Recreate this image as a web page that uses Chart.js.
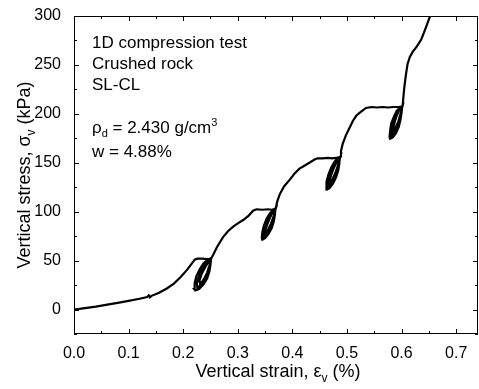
<!DOCTYPE html>
<html>
<head>
<meta charset="utf-8">
<script src="https://cdn.jsdelivr.net/npm/chart.js@4.4.1/dist/chart.umd.min.js"></script>
<style>
  body { margin: 0; background: #fff; }
  #wrap { width: 479px; height: 389px; }
</style>
</head>
<body>
<div id="wrap"><canvas id="chart" width="479" height="389"></canvas></div>
<script>
// strain (%) and vertical stress (kPa)
var strain = [
  // first loading
  0.000, 0.020, 0.040, 0.061, 0.080, 0.100, 0.120, 0.134, 0.137, 0.139, 0.142, 0.155, 0.170, 0.183, 0.195, 0.207, 0.215, 0.221, 0.226, 0.235, 0.243, 0.251,
  // loop 1
  0.250, 0.248, 0.244, 0.237, 0.229, 0.222, 0.220, 0.221, 0.224, 0.230, 0.237, 0.245, 0.251,
  0.249, 0.246, 0.241, 0.234, 0.226, 0.225, 0.228, 0.233, 0.240, 0.247, 0.252,
  0.248, 0.244, 0.238, 0.231, 0.230, 0.234, 0.240, 0.246, 0.252,
  // to 100 kPa
  0.255, 0.262, 0.273, 0.282, 0.291, 0.300, 0.310, 0.320, 0.328, 0.334, 0.345, 0.355, 0.362, 0.369,
  // loop 2
  0.368, 0.366, 0.362, 0.356, 0.350, 0.345, 0.344, 0.345, 0.348, 0.353, 0.359, 0.365, 0.369,
  0.367, 0.364, 0.359, 0.353, 0.347, 0.347, 0.350, 0.355, 0.361, 0.367, 0.370,
  0.366, 0.361, 0.356, 0.350, 0.350, 0.354, 0.359, 0.365, 0.370,
  // to 150 kPa
  0.372, 0.377, 0.385, 0.395, 0.404, 0.413, 0.422, 0.431, 0.440, 0.446, 0.455, 0.465, 0.473, 0.480, 0.487,
  // loop 3
  0.486, 0.484, 0.480, 0.474, 0.468, 0.463, 0.462, 0.463, 0.466, 0.471, 0.477, 0.483, 0.487,
  0.485, 0.482, 0.477, 0.471, 0.465, 0.465, 0.468, 0.473, 0.479, 0.485, 0.488,
  0.484, 0.479, 0.474, 0.468, 0.468, 0.472, 0.477, 0.483, 0.488,
  // to 200 kPa
  0.489, 0.492, 0.498, 0.505, 0.511, 0.517, 0.523, 0.529, 0.535, 0.545, 0.555, 0.565, 0.575, 0.585, 0.594, 0.601,
  // loop 4
  0.600, 0.598, 0.595, 0.590, 0.584, 0.579, 0.578, 0.579, 0.581, 0.586, 0.591, 0.597, 0.601,
  0.599, 0.596, 0.592, 0.587, 0.581, 0.581, 0.584, 0.588, 0.593, 0.598, 0.602,
  0.598, 0.594, 0.589, 0.584, 0.584, 0.587, 0.591, 0.596, 0.602,
  // final loading
  0.603, 0.605, 0.608, 0.611, 0.615, 0.620, 0.628, 0.636, 0.641, 0.645, 0.651, 0.655
];
var stress = [
  0.0, 1.5, 3.0, 5.0, 6.8, 8.8, 11.0, 12.8, 14.5, 12.5, 14.0, 17.0, 21.5, 26.5, 33.0, 40.5, 46.5, 51.0, 52.0, 52.0, 51.5, 52.0,
  46, 39, 32, 25.5, 21, 19.5, 21, 27, 34, 41, 47, 51, 52.5,
  46, 39, 32, 26, 22, 26.5, 33, 40, 46, 50.5, 53,
  45, 38, 31, 25.5, 30, 36.5, 43, 48.5, 53,
  56, 64, 74, 80, 84.5, 88, 91.5, 96, 101, 102.5, 102, 102.5, 102, 103,
  97, 90, 83, 77, 73, 71.5, 73, 79, 86, 93, 98.5, 102, 103.5,
  97, 90, 83, 77, 73.5, 78, 85, 92, 98, 102.5, 104,
  96, 88, 82, 76, 80, 87, 94, 100.5, 104,
  110, 118, 126, 132.5, 139, 144, 147, 150, 153, 154.5, 154.5, 155, 154.5, 155, 155.5,
  149, 142, 135, 128.5, 124, 122.5, 124, 130.5, 138, 145, 151, 154.5, 156,
  149, 142, 135, 129, 125, 129.5, 137, 144, 150, 154.5, 156.5,
  148, 140, 134, 128, 132, 139, 146, 152.5, 156.5,
  162, 169, 178, 186, 193, 198, 201, 203.5, 206, 207, 206.5, 207, 206.5, 207, 207, 207.5,
  201, 194, 187, 180.5, 176, 174.5, 176, 182.5, 190, 197, 203, 206.5, 208,
  201, 194, 187, 181, 177, 181.5, 189, 196, 202, 206.5, 208.5,
  200, 192, 186, 180, 184, 191, 198, 204.5, 208.5,
  215, 227, 240, 251, 258, 263, 269, 276, 283, 289, 298, 304
];
var xTickValues = [0.0, 0.1, 0.2, 0.3, 0.4, 0.5, 0.6, 0.7];
var yTickValues = [0, 50, 100, 150, 200, 250, 300];
var noteLines = [
  [['1D compression test', 'n']],
  [['Crushed rock', 'n']],
  [['SL-CL', 'n']],
  [['\u03c1', 'n'], ['d', 'sub'], [' = 2.430 g/cm', 'n'], ['3', 'sup']],
  [['w = 4.88%', 'n']]
];
var noteBaselines = [47.5, 68.5, 89.5, 132.7, 156.7];
var xTitle = [['Vertical strain, \u03b5', 'n'], ['v', 'sub'], [' (%)', 'n']];
var yTitle = [['Vertical stress, \u03c3', 'n'], ['v', 'sub'], [' (kPa)', 'n']];

var points = strain.map(function(s, i) { return { x: s, y: stress[i] }; });
var FONT = 'Arial, "Liberation Sans", sans-serif';

function richWidth(ctx, parts, size) {
  var w = 0;
  parts.forEach(function(p) {
    ctx.font = (p[1] === 'n' ? size : Math.round(size * 0.65)) + 'px ' + FONT;
    w += ctx.measureText(p[0]).width;
  });
  return w;
}

function drawRich(ctx, parts, x, y, size) {
  parts.forEach(function(p) {
    var sz = p[1] === 'n' ? size : Math.round(size * 0.65);
    var dy = p[1] === 'sub' ? size * 0.28 : (p[1] === 'sup' ? -size * 0.38 : 0);
    ctx.font = sz + 'px ' + FONT;
    ctx.fillText(p[0], x, y + dy);
    x += ctx.measureText(p[0]).width;
  });
}

var decor = {
  id: 'decor',
  afterDraw: function(chart) {
    var ctx = chart.ctx;
    var a = chart.chartArea;
    var xs = chart.scales.x, ys = chart.scales.y;
    ctx.save();
    ctx.strokeStyle = '#000';
    ctx.lineWidth = 1;
    ctx.strokeRect(a.left + 0.5, a.top + 0.5, a.right - a.left - 1, a.bottom - a.top - 1);

    // inward ticks on all four sides, majors and minors
    ctx.beginPath();
    for (var v = 0; v <= 0.7401; v += 0.05) {
      var px = Math.round(xs.getPixelForValue(v)) + 0.5;
      var len = (Math.round(v * 100) % 10 === 0) ? 5 : 3;
      ctx.moveTo(px, a.bottom); ctx.lineTo(px, a.bottom - len);
      ctx.moveTo(px, a.top); ctx.lineTo(px, a.top + len);
    }
    for (var w = -25; w <= 300; w += 25) {
      var py = Math.round(ys.getPixelForValue(w)) + 0.5;
      var l2 = (w % 50 === 0) ? 5 : 3;
      ctx.moveTo(a.left, py); ctx.lineTo(a.left + l2, py);
      ctx.moveTo(a.right, py); ctx.lineTo(a.right - l2, py);
    }
    ctx.stroke();

    ctx.fillStyle = '#000';
    ctx.textBaseline = 'alphabetic';
    ctx.textAlign = 'left';
    noteLines.forEach(function(line, i) {
      drawRich(ctx, line, 92, noteBaselines[i], 17);
    });

    var tw = richWidth(ctx, xTitle, 18);
    drawRich(ctx, xTitle, 278 - tw / 2, 377, 18);

    ctx.translate(23.5, (a.top + a.bottom) / 2);
    ctx.rotate(-Math.PI / 2);
    var th = richWidth(ctx, yTitle, 18);
    drawRich(ctx, yTitle, -th / 2, 6, 18);
    ctx.restore();
  }
};

new Chart(document.getElementById('chart'), {
  type: 'scatter',
  data: {
    datasets: [{
      data: points,
      showLine: true,
      borderColor: '#000',
      borderWidth: 2.2,
      pointRadius: 0,
      tension: 0,
      clip: 0
    }]
  },
  options: {
    responsive: false,
    animation: false,
    layout: { padding: { top: 16, right: 1, left: 0, bottom: 0 } },
    plugins: { legend: { display: false }, tooltip: { enabled: false } },
    scales: {
      x: {
        type: 'linear', min: 0, max: 0.74,
        grid: { display: false },
        border: { display: false },
        afterBuildTicks: function(s) { s.ticks = xTickValues.map(function(v) { return { value: v }; }); },
        afterFit: function(s) { s.height = 55; },
        ticks: {
          color: '#000', padding: 2, maxRotation: 0,
          font: { family: FONT, size: 16 },
          callback: function(v) { return Number(v).toFixed(1); }
        }
      },
      y: {
        type: 'linear', min: -25, max: 300,
        grid: { display: false },
        border: { display: false },
        afterBuildTicks: function(s) { s.ticks = yTickValues.map(function(v) { return { value: v }; }); },
        afterFit: function(s) { s.width = 74; },
        ticks: {
          color: '#000', padding: 5,
          font: { family: FONT, size: 16 },
          callback: function(v) { return String(v); }
        }
      }
    }
  },
  plugins: [decor]
});
</script>
</body>
</html>
